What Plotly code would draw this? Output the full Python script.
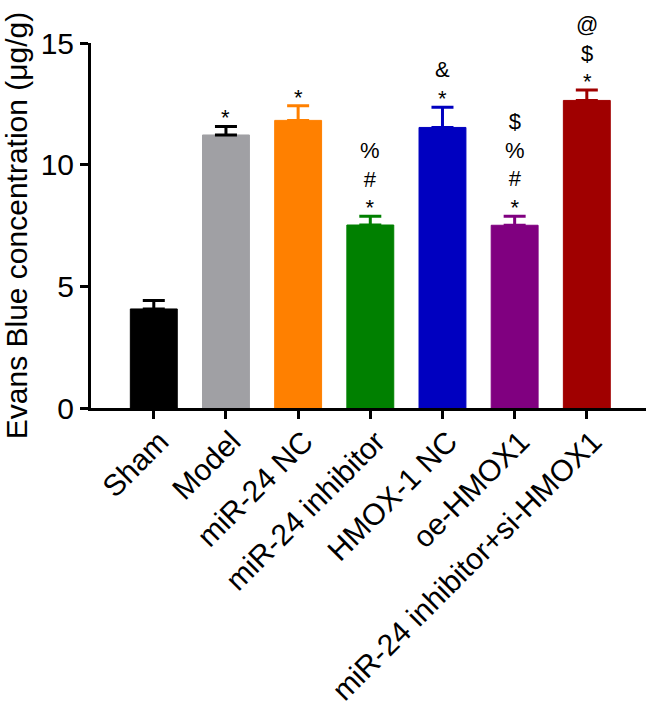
import plotly.graph_objects as go

categories = ["Sham", "Model", "miR-24 NC", "miR-24 inhibitor", "HMOX-1 NC", "oe-HMOX1", "miR-24 inhibitor+si-HMOX1"]
values = [4.07, 11.22, 11.82, 7.52, 11.53, 7.51, 12.64]
errors = [0.35, 0.35, 0.60, 0.36, 0.83, 0.37, 0.43]
bar_colors = ["#000000", "#A0A0A4", "#FF8000", "#008000", "#0000C0", "#800080", "#A00000"]
err_colors = ["#000000", "#000000", "#FF8000", "#008000", "#0000C0", "#800080", "#A00000"]
# significance symbols, top line first
marks = ["", "*", "*", "%<br>#<br>*", "&<br>*", "$<br>%<br>#<br>*", "@<br>$<br>*"]

FONT = "Liberation Sans, Arial, sans-serif"

fig = go.Figure()
for c, v, e, bc, ec in zip(categories, values, errors, bar_colors, err_colors):
    fig.add_trace(go.Bar(
        x=[c], y=[v], width=0.65,
        marker=dict(color=bc, line=dict(color=bc, width=1)),
        error_y=dict(type="data", symmetric=False, array=[e], arrayminus=[0],
                     color=ec, thickness=3, width=11),
        showlegend=False,
    ))

for c, v, e, m in zip(categories, values, errors, marks):
    if m:
        fig.add_annotation(x=c, y=v + e, text=m, showarrow=False,
                           yanchor="bottom", xanchor="center", yshift=-6,
                           font=dict(family=FONT, size=22, color="black"))

fig.update_layout(
    width=650, height=715,
    margin=dict(l=91, r=4, t=43, b=307),
    plot_bgcolor="white", paper_bgcolor="white",
    barmode="overlay",
    font=dict(family=FONT, color="black"),
    xaxis=dict(
        range=[-0.87, 6.82], showline=True, linecolor="black", linewidth=3,
        ticks="outside", ticklen=8, tickwidth=3, tickcolor="black",
        tickangle=-45, tickfont=dict(family=FONT, size=30, color="black"),
        ticklabelstandoff=-7, ticklabelshift=6,
        showgrid=False, zeroline=False, automargin=False,
    ),
    yaxis=dict(
        range=[0, 15], tickvals=[0, 5, 10, 15], showline=True, linecolor="black", linewidth=3,
        ticks="outside", ticklen=8, tickwidth=3, tickcolor="black",
        tickfont=dict(family=FONT, size=30, color="black"),
        showgrid=False, zeroline=False, automargin=False,
        title=dict(text="Evans Blue concentration (μg/g)", font=dict(family=FONT, size=30, color="black"), standoff=10),
    ),
)

fig.write_html("out.html", config={"displayModeBar": False},
               post_script="document.body.style.margin='0px';")
